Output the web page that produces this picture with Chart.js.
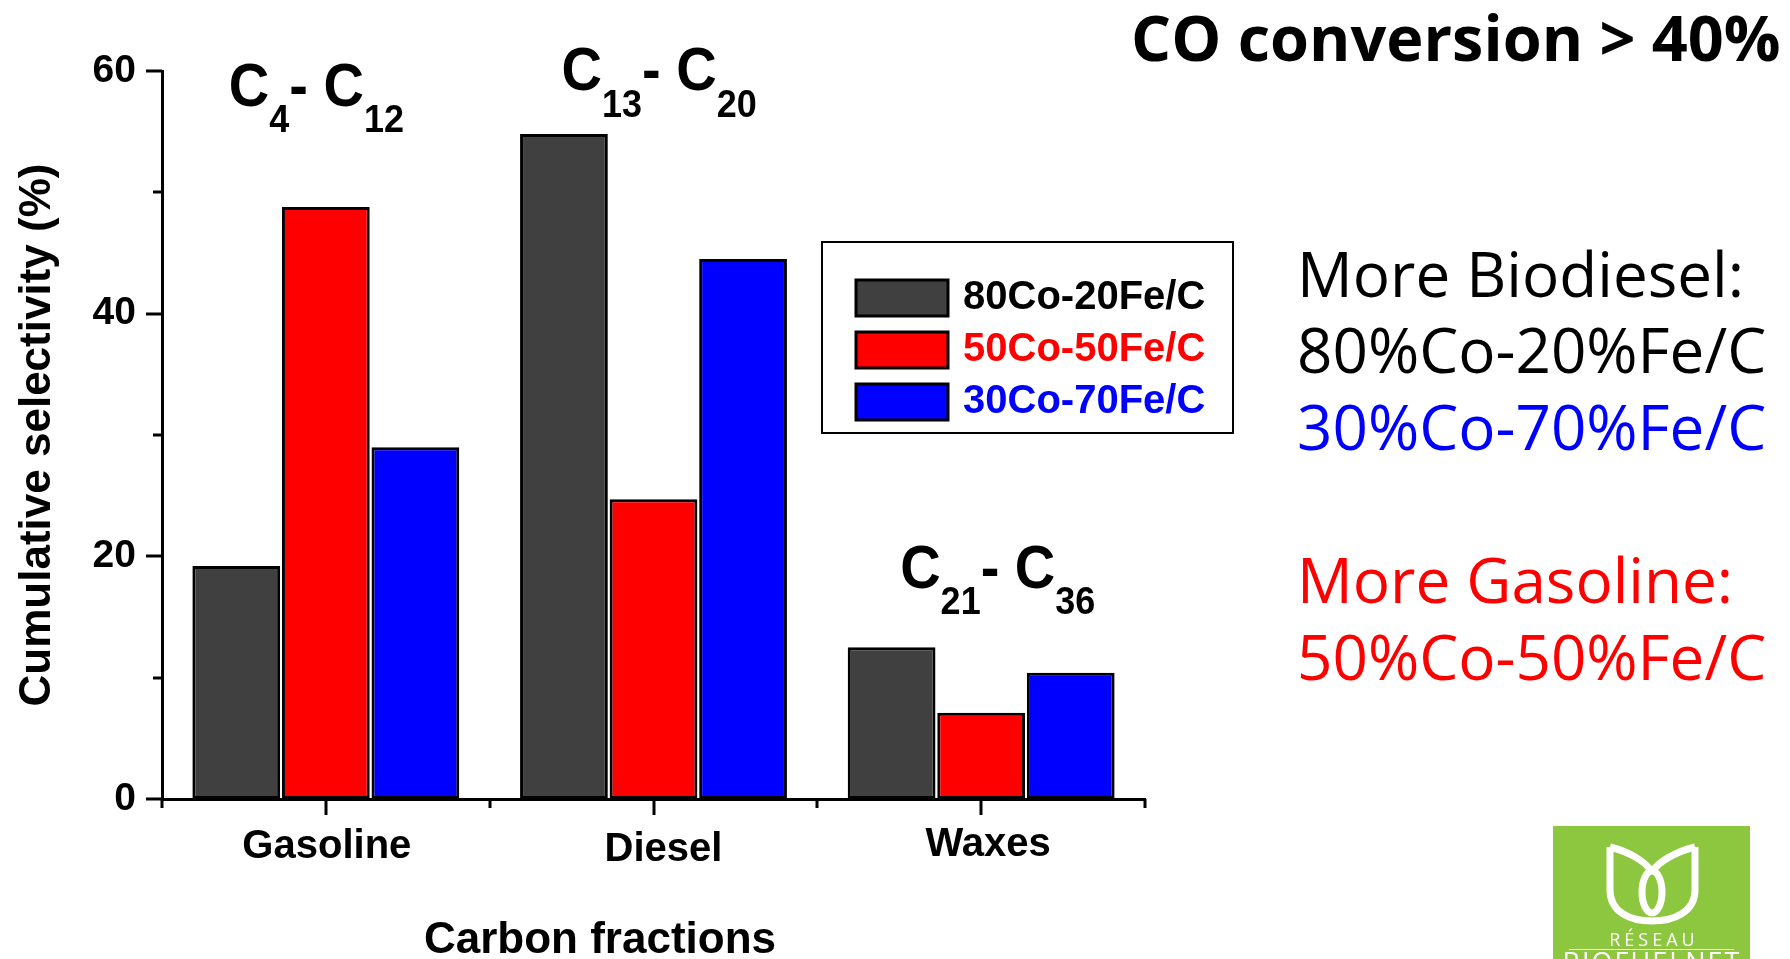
<!DOCTYPE html>
<html>
<head>
<meta charset="utf-8">
<title>Carbon fractions selectivity</title>
<script src="https://cdn.jsdelivr.net/npm/chart.js@4.4.1/dist/chart.umd.min.js"></script>
<style>
  html, body { margin: 0; padding: 0; background: #fff; overflow: hidden; }
</style>
</head>
<body>
<canvas id="selectivity_chart" width="1790" height="959"></canvas>
<script>
// selectivity per carbon fraction, one array per catalyst
const fractions = ['Gasoline', 'Diesel', 'Waxes'];
const carbonRanges = [[4, 12], [13, 20], [21, 36]];
const catalysts = ['80Co-20Fe/C', '50Co-50Fe/C', '30Co-70Fe/C'];
const sel_80co = [19.2, 54.8, 12.5];
const sel_50co = [48.8, 24.7, 7.1];
const sel_30co = [29.0, 44.5, 10.4];
const yTicks = [0, 20, 40, 60];
const yMinorTicks = [10, 30, 50];

const barColors = ['#404040', '#ff0000', '#0000ff'];
const legendTextColors = ['#000000', '#ff0000', '#0000ff'];
const ARIAL = '"Liberation Sans", Arial, sans-serif';
const OPEN = '"Open Sans", "Noto Sans", sans-serif';

// C-range labels: offset from category centre and y value of the baseline
const rangeLabelPos = [{dx: -97, v: 57.15}, {dx: -92, v: 58.4}, {dx: -81, v: 17.4}];
// category names are not quite centred under their ticks
const catLabelShift = [{dx: 1, dy: 0}, {dx: 10, dy: 3}, {dx: 7, dy: -2}];

function drawRange(ctx, x0, base, lo, hi) {
    const big = 'bold 56px ' + ARIAL;
    const small = 'bold 36px ' + ARIAL;
    ctx.save();
    ctx.translate(x0, base);
    ctx.scale(1, 1.1);
    let x = 0;
    ctx.font = big;
    ctx.fillText('C', x, 0);
    x += ctx.measureText('C').width;
    ctx.font = small;
    ctx.fillText(String(lo), x, 24);
    x += ctx.measureText(String(lo)).width;
    ctx.font = big;
    ctx.fillText('- C', x, 0);
    x += ctx.measureText('- C').width;
    ctx.font = small;
    ctx.fillText(String(hi), x, 24);
    ctx.restore();
}

function drawLogo(ctx) {
    ctx.save();
    ctx.fillStyle = '#8dc63f';
    ctx.fillRect(1553, 826, 197, 140);
    ctx.strokeStyle = '#ffffff';
    ctx.lineWidth = 7;
    ctx.lineJoin = 'round';
    // outer cup of the tulip
    ctx.beginPath();
    ctx.moveTo(1610, 847);
    ctx.lineTo(1610, 890);
    ctx.bezierCurveTo(1610, 912, 1630, 921, 1652, 921);
    ctx.bezierCurveTo(1674, 921, 1695, 912, 1695, 890);
    ctx.lineTo(1695, 847);
    // inner petals meeting in the middle loop
    ctx.moveTo(1610, 847);
    ctx.bezierCurveTo(1630, 852, 1646, 862, 1652, 872);
    ctx.moveTo(1695, 847);
    ctx.bezierCurveTo(1675, 852, 1658, 862, 1652, 872);
    ctx.stroke();
    ctx.beginPath();
    ctx.ellipse(1652, 892, 10, 21, 0, 0, Math.PI * 2);
    ctx.stroke();
    ctx.fillStyle = '#ffffff';
    ctx.textAlign = 'center';
    ctx.textBaseline = 'alphabetic';
    ctx.font = '18px ' + OPEN;
    ctx.letterSpacing = '4px';
    ctx.fillText('RÉSEAU', 1654, 946);
    ctx.letterSpacing = '0px';
    ctx.lineWidth = 1;
    ctx.beginPath();
    ctx.moveTo(1569, 949.5);
    ctx.lineTo(1734, 949.5);
    ctx.stroke();
    ctx.font = '27px ' + OPEN;
    ctx.letterSpacing = '2px';
    ctx.fillText('BIOFUELNET', 1652, 972);
    ctx.restore();
}

const slideExtras = {
    id: 'slideExtras',
    afterDraw(chart) {
        const ctx = chart.ctx;
        const x = chart.scales.x;
        const y = chart.scales.y;
        ctx.save();
        ctx.strokeStyle = '#000';
        ctx.lineWidth = 3;
        ctx.beginPath();
        // y tick marks, pointing outwards
        yTicks.forEach(v => {
            const py = Math.round(y.getPixelForValue(v));
            ctx.moveTo(y.right - 16, py);
            ctx.lineTo(y.right, py);
        });
        yMinorTicks.forEach(v => {
            const py = Math.round(y.getPixelForValue(v));
            ctx.moveTo(y.right - 9, py);
            ctx.lineTo(y.right, py);
        });
        // x tick marks: long at the categories, short at the boundaries
        const step = x.width / fractions.length;
        fractions.forEach((f, i) => {
            const px = Math.round(x.getPixelForValue(i));
            ctx.moveTo(px, x.top);
            ctx.lineTo(px, x.top + 16);
        });
        for (let k = 0; k <= fractions.length; k++) {
            const px = Math.round(x.left + k * step);
            ctx.moveTo(px, x.top);
            ctx.lineTo(px, x.top + 9);
        }
        ctx.stroke();

        // category names
        ctx.fillStyle = '#000';
        ctx.textAlign = 'center';
        ctx.textBaseline = 'middle';
        ctx.font = 'bold 40px ' + ARIAL;
        fractions.forEach((f, i) => {
            const s = catLabelShift[i];
            ctx.fillText(f, x.getPixelForValue(i) + s.dx, x.top + 48 + s.dy);
        });

        // x axis title
        ctx.font = 'bold 44px ' + ARIAL;
        ctx.fillText('Carbon fractions', 600, 941);

        // carbon ranges above each group
        ctx.textAlign = 'left';
        ctx.textBaseline = 'alphabetic';
        carbonRanges.forEach((r, i) => {
            const p = rangeLabelPos[i];
            drawRange(ctx, x.getPixelForValue(i) + p.dx, y.getPixelForValue(p.v), r[0], r[1]);
        });

        // legend box
        ctx.lineWidth = 2;
        ctx.strokeRect(822, 242, 411, 191);
        chart.data.datasets.forEach((ds, i) => {
            const cy = 298 + i * 52;
            ctx.fillStyle = ds.backgroundColor;
            ctx.fillRect(856, cy - 18, 92, 36);
            ctx.lineWidth = 3;
            ctx.strokeRect(856, cy - 18, 92, 36);
            ctx.fillStyle = legendTextColors[i];
            ctx.font = 'bold 40px ' + ARIAL;
            ctx.textBaseline = 'middle';
            ctx.fillText(ds.label, 963, cy);
        });

        // notes on the right
        ctx.textBaseline = 'alphabetic';
        ctx.fillStyle = '#000';
        ctx.font = 'bold 63px ' + OPEN;
        ctx.fillText('CO conversion > 40%', 1131, 61);
        ctx.font = '62px ' + OPEN;
        ctx.fillText('More Biodiesel:', 1297, 297);
        ctx.fillText('80%Co-20%Fe/C', 1297, 373);
        ctx.fillStyle = '#0000ff';
        ctx.fillText('30%Co-70%Fe/C', 1297, 450);
        ctx.fillStyle = '#ff0000';
        ctx.fillText('More Gasoline:', 1297, 603);
        ctx.fillText('50%Co-50%Fe/C', 1297, 680);
        ctx.restore();

        drawLogo(ctx);
    }
};

const ctx = document.getElementById('selectivity_chart');
const series = [sel_80co, sel_50co, sel_30co];
new Chart(ctx, {
    type: 'bar',
    data: {
        labels: fractions,
        datasets: series.map((d, i) => ({
            label: catalysts[i],
            data: d,
            backgroundColor: barColors[i],
            borderColor: '#000',
            borderWidth: 3,
            borderSkipped: false,
            categoryPercentage: 0.82,
            barPercentage: 0.98
        }))
    },
    options: {
        responsive: false,
        animation: false,
        devicePixelRatio: 1,
        layout: { padding: { left: 0, top: 71, right: 645, bottom: 0 } },
        plugins: { legend: { display: false }, tooltip: { enabled: false } },
        scales: {
            x: {
                offset: true,
                grid: { display: false, drawTicks: false },
                border: { display: true, color: '#000', width: 3 },
                ticks: { display: false },
                afterFit: s => { s.height = 160; }
            },
            y: {
                min: 0,
                max: 60,
                afterBuildTicks: s => { s.ticks = yTicks.map(v => ({ value: v })); },
                grid: { display: false, drawTicks: false },
                border: { display: true, color: '#000', width: 3 },
                ticks: { color: '#000', padding: 26, font: { family: ARIAL, size: 39, weight: 'bold' } },
                title: {
                    display: true,
                    text: 'Cumulative selectivity (%)',
                    color: '#000',
                    font: { family: ARIAL, size: 44, weight: 'bold' },
                    padding: { top: 11, bottom: 0 }
                },
                afterFit: s => { s.width = 162; }
            }
        }
    },
    plugins: [slideExtras]
});
</script>
</body>
</html>
